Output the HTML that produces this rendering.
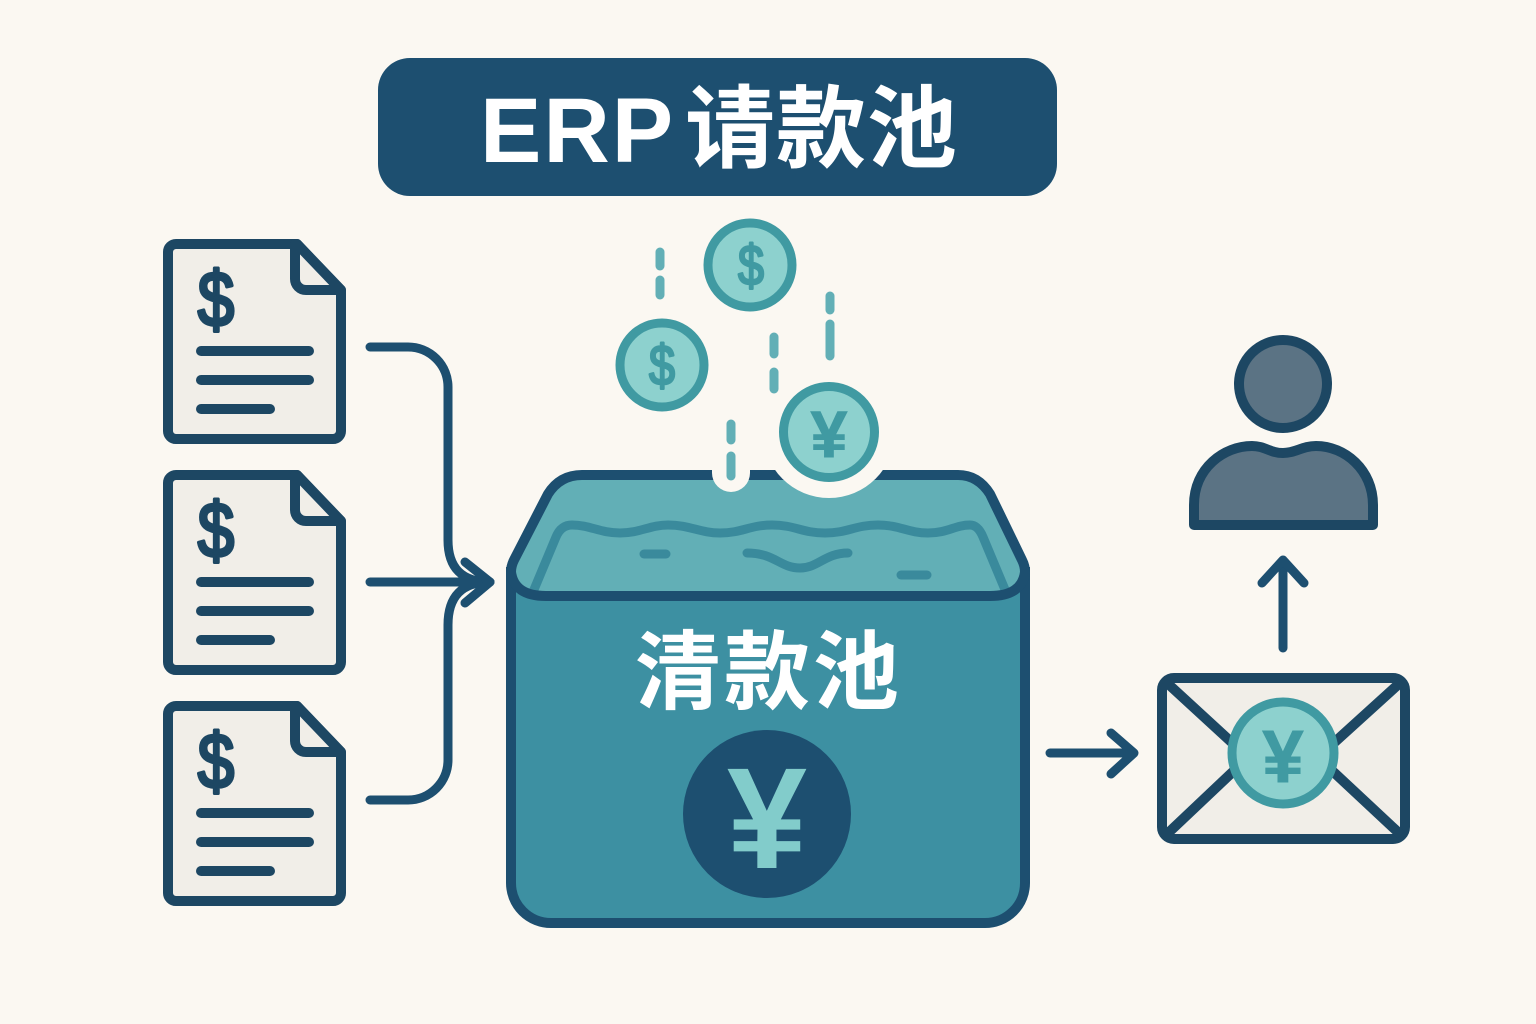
<!DOCTYPE html>
<html lang="zh">
<head>
<meta charset="utf-8">
<title>ERP请款池</title>
<style>
html,body{margin:0;padding:0;background:#fbf8f2;}
svg{display:block;}
.cjk{font-family:"Liberation Sans","Noto Sans CJK SC",sans-serif;font-weight:700;}
.sym{font-family:"Liberation Sans","DejaVu Sans",sans-serif;font-weight:700;text-anchor:middle;}
.dol{font-family:"Liberation Sans","DejaVu Sans",sans-serif;font-weight:400;text-anchor:middle;stroke-linejoin:round;}
</style>
</head>
<body>
<svg width="1536" height="1024" viewBox="0 0 1536 1024" xmlns="http://www.w3.org/2000/svg">
<defs>
<g id="doc">
  <path d="M168 252 a8 8 0 0 1 8 -8 H297 L341 290 V431 a8 8 0 0 1 -8 8 H176 a8 8 0 0 1 -8 -8 Z" fill="#f1eee8" stroke="#1d4763" stroke-width="10" stroke-linejoin="round"/>
  <path d="M297 244 L341 290 H306 a11 11 0 0 1 -11 -11 V244 Z" fill="#f1eee8" stroke="#1d4763" stroke-width="10" stroke-linejoin="round"/>
  <text class="dol" transform="translate(216,326) scale(.84,1)" font-size="78" fill="#1d4763" stroke="#1d4763" stroke-width="3.500">$</text>
  <g stroke="#1d4763" stroke-width="10" stroke-linecap="round">
    <line x1="201" y1="351" x2="309" y2="351"/>
    <line x1="201" y1="380" x2="309" y2="380"/>
    <line x1="201" y1="409" x2="270" y2="409"/>
  </g>
</g>
</defs>

<rect width="1536" height="1024" fill="#fbf8f2"/>

<!-- title -->
<rect x="378" y="58" width="679" height="138" rx="32" fill="#1d4f70"/>
<text class="cjk" x="480" y="162" font-size="92" fill="#ffffff" letter-spacing="2">ERP</text>
<text class="cjk" x="685" y="160" font-size="90" fill="#ffffff" letter-spacing="1">请款池</text>

<!-- documents -->
<use href="#doc"/>
<use href="#doc" y="231"/>
<use href="#doc" y="462"/>

<!-- connectors -->
<g fill="none" stroke="#1d4f70" stroke-width="9" stroke-linecap="round" stroke-linejoin="round">
  <path d="M370 347 H408 a40 40 0 0 1 40 40 V540 q0 42 42 42"/>
  <path d="M370 800 H408 a40 40 0 0 0 40 -40 V625 q0 -43 42 -43"/>
  <path d="M370 582 H488"/>
  <path d="M465 562 L490 582 L465 603"/>
  <path d="M1050 753 H1132"/>
  <path d="M1111 733 L1134 753 L1111 774"/>
  <path d="M1283 648 V562"/>
  <path d="M1262 583 L1283 560 L1304 583"/>
</g>

<!-- pool -->
<path d="M511 572 V883 a40 40 0 0 0 40 40 H985 a40 40 0 0 0 40 -40 V572 Z" fill="#3d90a2" stroke="#1d4f70" stroke-width="10"/>
<path d="M511 572 Q511 566 514 560 L548 494 Q560 475 582 475 H958 Q978 475 990 494 L1022 560 Q1025 566 1025 572 Q1022 596 990 596 H546 Q514 596 511 572 Z" fill="#62afb6"/>
<g fill="none" stroke="#3a8a9c" stroke-width="9" stroke-linecap="round" stroke-linejoin="round">
  <path d="M533 592 L556 537 Q561 525 572 525 C590 525 600 533 620 533 C640 533 650 525 668 525 C690 525 700 533 720 533 C742 533 750 525 772 525 C795 525 802 533 825 533 C848 533 855 525 878 525 C900 525 908 533 928 533 C948 533 955 525 970 525 Q978 525 983 537 L1006 592"/>
  <path d="M644 554 H666"/>
  <path d="M747 553 C775 553 780 568 800 568 C818 568 825 553 848 553"/>
  <path d="M901 575 H927"/>
</g>
<path d="M511 572 Q511 566 514 560 L548 494 Q560 475 582 475 H958 Q978 475 990 494 L1022 560 Q1025 566 1025 572 Q1022 596 990 596 H546 Q514 596 511 572 Z" fill="none" stroke="#1d4f70" stroke-width="10" stroke-linejoin="round"/>
<text class="cjk" x="635" y="702" font-size="86" fill="#ffffff" letter-spacing="3">清款池</text>
<circle cx="767" cy="814" r="84" fill="#1d4f70"/>
<text class="sym" x="767" y="868" font-size="144" fill="#82cccb">¥</text>

<!-- notches -->
<circle cx="829" cy="432" r="66" fill="#fbf8f2"/>
<line x1="731" y1="440" x2="731" y2="473" stroke="#fbf8f2" stroke-width="38" stroke-linecap="round"/>

<!-- dashes -->
<g stroke="#62afb6" stroke-width="9" stroke-linecap="round">
  <line x1="660" y1="252" x2="660" y2="266"/>
  <line x1="660" y1="280" x2="660" y2="295"/>
  <line x1="830" y1="296" x2="830" y2="310"/>
  <line x1="830" y1="324" x2="830" y2="356"/>
  <line x1="774" y1="337" x2="774" y2="354"/>
  <line x1="774" y1="372" x2="774" y2="389"/>
  <line x1="731" y1="424" x2="731" y2="440"/>
  <line x1="731" y1="456" x2="731" y2="476"/>
</g>

<!-- coins -->
<circle cx="750" cy="265" r="42" fill="#8dd1ce" stroke="#409aa2" stroke-width="9"/>
<text class="dol" transform="translate(751,285) scale(.82,1)" font-size="57" fill="#409aa2" stroke="#409aa2" stroke-width="2.500">$</text>
<circle cx="662" cy="365" r="42" fill="#8dd1ce" stroke="#409aa2" stroke-width="9"/>
<text class="dol" transform="translate(662,385) scale(.82,1)" font-size="57" fill="#409aa2" stroke="#409aa2" stroke-width="2.500">$</text>
<circle cx="829" cy="432" r="45.500" fill="#8dd1ce" stroke="#409aa2" stroke-width="9"/>
<text class="sym" x="829" y="457" font-size="66" fill="#409aa2" stroke="#409aa2" stroke-width="1">¥</text>

<!-- envelope -->
<rect x="1162" y="678" width="243" height="161" rx="12" fill="#f1eee8" stroke="#1d4763" stroke-width="10"/>
<g stroke="#1d4763" stroke-width="10">
  <line x1="1166" y1="682" x2="1240" y2="750"/>
  <line x1="1401" y1="682" x2="1326" y2="750"/>
  <line x1="1166" y1="835" x2="1240" y2="765"/>
  <line x1="1401" y1="835" x2="1326" y2="765"/>
</g>
<circle cx="1283" cy="753" r="51" fill="#8dd1ce" stroke="#409aa2" stroke-width="9"/>
<text class="sym" x="1283" y="782" font-size="74" fill="#409aa2" stroke="#409aa2" stroke-width="1">¥</text>

<!-- person -->
<circle cx="1283" cy="384" r="44" fill="#5b7384" stroke="#1d4763" stroke-width="10"/>
<path d="M1194 525 V505 C1194 468 1224 446 1252 446 C1265 446 1270 453 1283 453 C1296 453 1302 446 1316 446 C1345 446 1373 470 1373 505 V525 Z" fill="#5b7384" stroke="#1d4763" stroke-width="10" stroke-linejoin="round"/>
</svg>
</body>
</html>
